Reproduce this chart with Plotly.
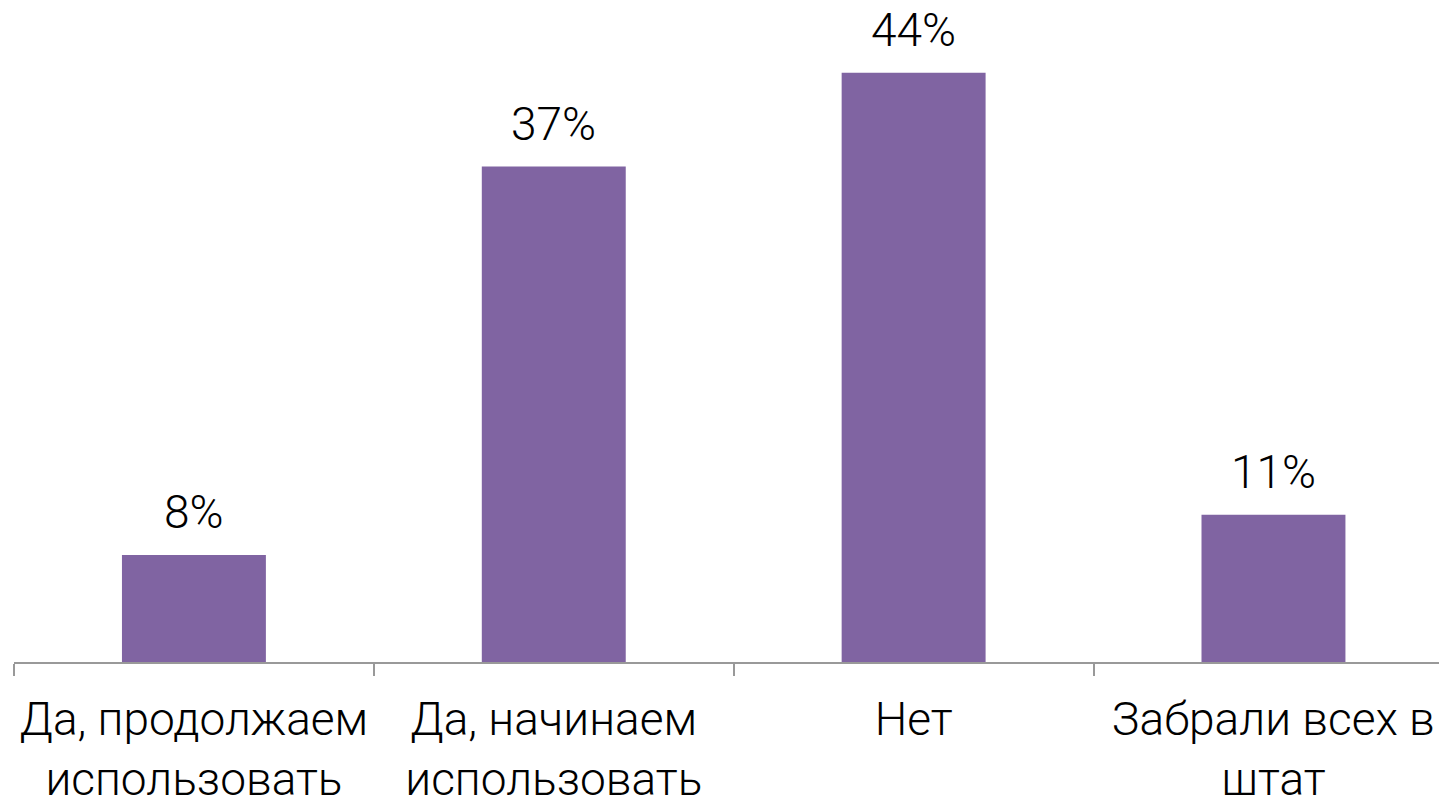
import plotly.graph_objects as go

categories = ["Да, продолжаем<br>использовать", "Да, начинаем<br>использовать", "Нет", "Забрали всех в<br>штат"]
values = [8, 37, 44, 11]
labels = ["8%", "37%", "44%", "11%"]

FONT = "Roboto"
SIZE = 46
fig = go.Figure()
fig.add_trace(go.Bar(
    x=categories, y=values, width=0.4,
    marker=dict(color="#8064A2", line=dict(width=0)),
    hoverinfo="skip",
))
for c, v, t in zip(categories, values, labels):
    fig.add_annotation(x=c, y=v, text=t, showarrow=False, yanchor="bottom",
                       yshift=14, font=dict(family=FONT, size=SIZE, color="#000000", weight=300))

fig.update_layout(
    width=1439, height=801,
    margin=dict(l=14, r=0, t=0, b=139, autoexpand=False),
    paper_bgcolor="white", plot_bgcolor="white",
    showlegend=False,
    xaxis=dict(
        range=[-0.5, 3.46], tickson="boundaries", ticks="outside", ticklen=12,
        tickwidth=2, tickcolor="#999999", showline=True, linecolor="#999999",
        linewidth=2, showgrid=False, zeroline=False, ticklabelstandoff=16,
        tickangle=0, automargin=False,
        tickfont=dict(family=FONT, size=SIZE, color="#000000", weight=300),
    ),
    yaxis=dict(range=[0, 49.44], visible=False, showgrid=False, zeroline=False,
               automargin=False),
)
fig.write_html("out.html", config={"displayModeBar": False},
               post_script="document.body.style.margin='0';document.body.style.overflow='hidden';")
